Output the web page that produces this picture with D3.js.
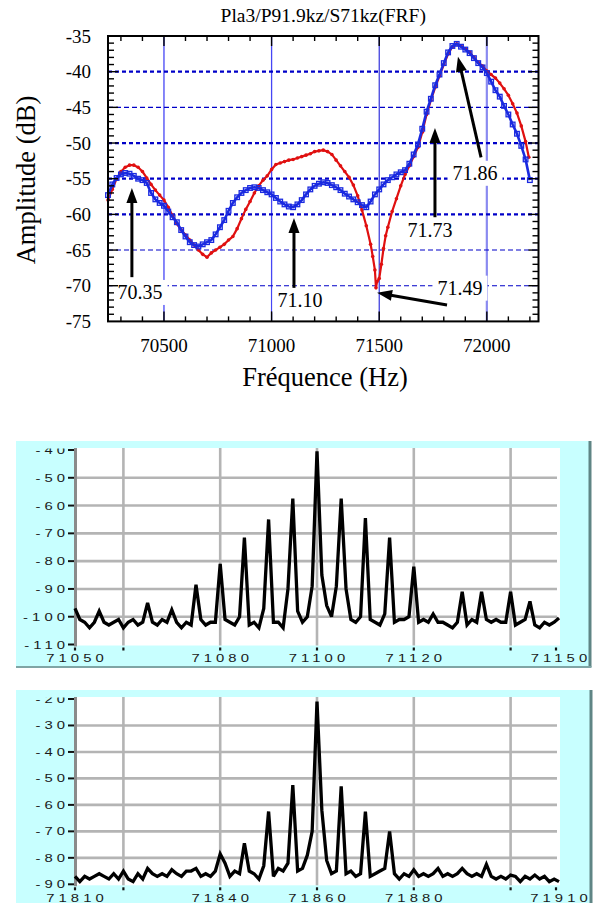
<!DOCTYPE html>
<html><head><meta charset="utf-8">
<script src="https://cdn.jsdelivr.net/npm/d3@7"></script>
<style>body{margin:0;background:#fff}svg{display:block}</style>
</head><body>
<svg id="c" width="596" height="903"></svg>
<script>
// ---------------- TOP CHART DATA (FRF) ----------------
const chartTitle = "Pla3/P91.9kz/S71kz(FRF)";
const blueHz = [70240,70260,70280,70300,70320,70340,70360,70380,70400,70420,70440,70460,70480,70500,70520,70540,70560,70580,70600,70620,70640,70660,70680,70700,70720,70740,70760,70780,70800,70820,70840,70860,70880,70900,70920,70940,70960,70980,71000,71020,71040,71060,71080,71100,71120,71140,71160,71180,71200,71220,71240,71260,71280,71300,71320,71340,71360,71380,71400,71420,71440,71460,71480,71500,71520,71540,71560,71580,71600,71620,71640,71660,71680,71700,71720,71740,71760,71780,71800,71820,71840,71860,71880,71900,71920,71940,71960,71980,72000,72020,72040,72060,72080,72100,72120,72140,72160,72180,72200];
const blueDb = [-57.3,-55.8,-54.9,-54.4,-54.2,-54.3,-54.6,-55.0,-55.2,-55.6,-57.0,-57.9,-58.4,-58.8,-59.6,-60.4,-61.1,-62.2,-63.1,-63.9,-64.3,-64.5,-64.2,-63.9,-63.6,-62.8,-61.8,-60.8,-59.5,-58.4,-57.6,-57.0,-56.6,-56.3,-56.2,-56.3,-56.6,-56.9,-57.2,-57.7,-58.2,-58.6,-58.9,-59.0,-58.6,-58.0,-57.2,-56.5,-56.0,-55.7,-55.5,-55.6,-55.9,-56.2,-56.6,-57.1,-57.5,-57.9,-58.3,-58.7,-59.0,-58.2,-57.2,-56.5,-55.8,-55.2,-54.8,-54.4,-54.1,-53.8,-52.9,-51.6,-50.2,-48.0,-45.6,-43.8,-41.9,-40.4,-38.8,-37.3,-36.4,-36.1,-36.5,-36.9,-37.4,-38.1,-38.8,-39.4,-40.2,-41.4,-42.6,-43.5,-44.8,-46.0,-47.4,-48.7,-50.4,-52.3,-55.2];
const redHz = [70240,70260,70280,70300,70320,70340,70360,70380,70400,70420,70440,70460,70480,70500,70520,70540,70560,70580,70600,70620,70640,70660,70680,70700,70720,70740,70760,70780,70800,70820,70840,70860,70880,70900,70920,70940,70960,70980,71000,71020,71040,71060,71080,71100,71120,71140,71160,71180,71200,71220,71240,71260,71280,71300,71320,71340,71360,71380,71400,71420,71440,71460,71470,71480,71485,71490,71500,71510,71520,71530,71540,71560,71580,71600,71620,71640,71660,71680,71700,71720,71740,71760,71780,71800,71820,71840,71860,71880,71900,71920,71940,71960,71980,72000,72020,72040,72060,72080,72100,72120,72140,72160,72180,72195];
const redDb = [-58.0,-56.5,-55.0,-54.0,-53.4,-53.1,-53.1,-53.4,-54.0,-54.9,-55.8,-56.6,-57.3,-58.0,-59.0,-60.2,-61.3,-62.2,-62.9,-63.6,-64.3,-65.0,-65.6,-66.0,-65.4,-65.0,-64.6,-64.2,-63.6,-63.1,-62.0,-60.6,-59.3,-58.2,-57.0,-56.0,-55.2,-54.6,-53.7,-53.0,-52.8,-52.6,-52.4,-52.3,-52.1,-51.9,-51.7,-51.5,-51.2,-51.1,-51.0,-51.2,-51.6,-52.4,-53.2,-54.0,-54.8,-55.9,-57.4,-59.4,-61.6,-64.2,-65.9,-67.8,-70.3,-69.4,-69.0,-67.0,-64.8,-63.0,-61.8,-59.6,-57.8,-56.0,-54.4,-53.2,-51.9,-50.6,-48.5,-46.0,-44.0,-42.2,-40.6,-39.0,-37.5,-36.5,-36.1,-36.4,-36.8,-37.3,-38.0,-38.7,-39.2,-39.9,-40.4,-40.9,-41.6,-42.4,-43.3,-44.5,-45.8,-47.6,-49.8,-52.0];
const topXTicks = [70500, 71000, 71500, 72000];
const topYTicks = [-75,-70,-65,-60,-55,-50,-45,-40,-35];
const thickLevels = [-40,-50,-55,-60];
const thinLevels = [-45,-65,-70];
const annotations = [
  {label:"70.35", tip:[70351,-56.3], tail:[70351,-68.8], text:[70389,-70.9]},
  {label:"71.10", tip:[71104,-60.5], tail:[71104,-70.3], text:[71132,-72.0]},
  {label:"71.49", tip:[71490,-71.0], tail:[71815,-72.7], text:[71875,-70.3]},
  {label:"71.73", tip:[71759,-47.9], tail:[71759,-60.4], text:[71736,-62.2]},
  {label:"71.86", tip:[71866,-37.9], tail:[71973,-52.0], text:[71945,-54.2]}
];

// ---------------- MIDDLE SPECTRUM (71050-71150 Hz) ----------------
const midStartHz = 71050;
const midDb = [-97,-101,-102,-104,-102,-98,-102,-103,-102,-101,-104,-102,-101,-103,-102,-95,-102,-103,-101,-102,-97.5,-102,-104,-102,-103,-88.5,-101,-103,-102,-102,-81,-101,-102,-103,-100,-71.5,-103,-102,-104,-97,-65,-102,-102,-104,-90,-57.5,-98,-102,-100,-89,-40.5,-85,-96,-100,-89,-57.5,-90,-101,-102,-100,-64.5,-101,-102,-103,-99,-71.5,-102,-101,-101,-100,-82,-102,-101,-102,-99,-102,-102,-103,-104,-102,-91,-103,-101,-102,-91,-101,-102,-101,-102,-102,-91,-103,-102,-101,-94.5,-103,-104,-102,-103,-102,-100.5];
const midXLabels = [71050, 71080, 71100, 71120, 71150];
const midXGrid = [71060, 71080, 71100, 71120, 71140];
const midYTicks = [-110,-100,-90,-80,-70,-60,-50,-40];

// ---------------- BOTTOM SPECTRUM (71810-71910 Hz) ----------------
const botStartHz = 71810;
const botDb = [-87,-89,-87,-88,-87,-86,-87,-88,-86,-88,-85,-88,-89,-86,-88,-84,-86,-87,-86,-87,-84.5,-86,-87,-85,-85,-84,-87,-86,-87,-85,-78.5,-82,-87,-85,-86,-74.5,-85,-86,-88,-83,-62.5,-87,-84,-85,-82,-52.5,-85,-84,-79,-70,-21,-62,-81,-86,-85,-53,-86,-85,-87,-86,-62.5,-87,-86,-85,-84,-70,-86,-88,-86,-87,-84.5,-87,-86,-87,-86,-84,-87,-86,-87,-86,-84,-86,-87,-86,-87,-82.5,-87,-88,-87,-88,-86.5,-87,-89,-87,-88,-86.5,-88,-87,-89,-88,-89];
const botXLabels = [71810, 71840, 71860, 71880, 71910];
const botXGrid = [71820, 71840, 71860, 71880, 71900];
const botYTicks = [-90,-80,-70,-60,-50,-40,-30,-20];

const svg = d3.select("#c");

// ================= TOP CHART =================
(function(){
  const L=108, R=538.5, T=36, B=321.4;
  const x = d3.scaleLinear([70240,72240],[L,R]);
  const y = d3.scaleLinear([-75,-35],[B,T]);
  const g = svg.append("g");
  const serif = "'Liberation Serif','Times New Roman',serif";

  g.append("text").attr("x",(L+R)/2).attr("y",22).attr("text-anchor","middle")
    .attr("font-family",serif).attr("font-size",19.5).text(chartTitle);

  const vStyle = {70500:["#4646f5",1.3],71000:["#4646f5",1.3],71500:["#2020d8",1.1],72000:["#8a8af0",2.2]};
  g.append("g").selectAll("line").data(topXTicks).join("line")
    .attr("x1",d=>x(d)).attr("x2",d=>x(d)).attr("y1",T).attr("y2",B)
    .attr("stroke",d=>vStyle[d][0]).attr("stroke-width",d=>vStyle[d][1]);

  g.append("g").selectAll("line").data(thickLevels).join("line")
    .attr("x1",L).attr("x2",R).attr("y1",d=>y(d)).attr("y2",d=>y(d))
    .attr("stroke","#0000c8").attr("stroke-width",2.3).attr("stroke-dasharray","4,3");
  g.append("g").selectAll("line").data(thinLevels).join("line")
    .attr("x1",L).attr("x2",R).attr("y1",d=>y(d)).attr("y2",d=>y(d))
    .attr("stroke","#0000c8").attr("stroke-width",1.1).attr("stroke-dasharray","5,3");

  const boxG = g.append("g");
  const curveG = g.append("g");
  const arrowG = g.append("g");
  const labG = g.append("g");
  annotations.forEach(a=>{
    const t = labG.append("text").attr("x",x(a.text[0])).attr("y",y(a.text[1])+6.8)
      .attr("text-anchor","middle").attr("font-family",serif).attr("font-size",20).text(a.label);
    const bb = t.node().getBBox();
    boxG.append("rect").attr("x",bb.x-5).attr("y",bb.y-1).attr("width",bb.width+10).attr("height",bb.height+3).attr("fill","#fff");
  });

  const redPts = redHz.map((h,i)=>[h,redDb[i]]);
  const bluePts = blueHz.map((h,i)=>[h,blueDb[i]]);
  const line = d3.line().x(d=>x(d[0])).y(d=>y(d[1]));
  curveG.append("path").attr("d",line(redPts)).attr("fill","none").attr("stroke","#e01010").attr("stroke-width",2.2);
  curveG.append("g").selectAll("circle").data(redPts).join("circle")
    .attr("cx",d=>x(d[0])).attr("cy",d=>y(d[1])).attr("r",1.8).attr("fill","#e01010");
  curveG.append("path").attr("d",line(bluePts)).attr("fill","none").attr("stroke","#1a2ae0").attr("stroke-width",2.6);
  curveG.append("g").selectAll("rect").data(bluePts).join("rect")
    .attr("x",d=>x(d[0])-2.3).attr("y",d=>y(d[1])-2.3).attr("width",4.6).attr("height",4.6)
    .attr("fill","none").attr("stroke","#1a2ae0").attr("stroke-width",1.3);

  annotations.forEach(a=>{
    const x1=x(a.tail[0]), y1=y(a.tail[1]), x2=x(a.tip[0]), y2=y(a.tip[1]);
    const dx=x2-x1, dy=y2-y1, len=Math.hypot(dx,dy), ux=dx/len, uy=dy/len;
    const hl=15, hw=5.5;
    const bx=x2-ux*hl, by=y2-uy*hl;
    arrowG.append("line").attr("x1",x1).attr("y1",y1).attr("x2",bx+ux*1).attr("y2",by+uy*1)
      .attr("stroke","#000").attr("stroke-width",3);
    arrowG.append("path").attr("d",`M${x2},${y2}L${bx-uy*hw},${by+ux*hw}L${bx+uy*hw},${by-ux*hw}Z`).attr("fill","#000");
  });

  const fr = g.append("g").attr("stroke","#000");
  fr.append("rect").attr("x",L).attr("y",T).attr("width",R-L).attr("height",B-T)
    .attr("fill","none").attr("stroke-width",2);
  const xMinor = d3.range(70300,72241,100);
  xMinor.forEach(v=>{
    const len = v%500===0?10:5;
    fr.append("line").attr("x1",x(v)).attr("x2",x(v)).attr("y1",T).attr("y2",T+len).attr("stroke-width",1.4);
    fr.append("line").attr("x1",x(v)).attr("x2",x(v)).attr("y1",B).attr("y2",B-len).attr("stroke-width",1.4);
  });
  const yMinor = d3.range(-74,-35,1);
  yMinor.forEach(v=>{
    const len = v%5===0?10:6;
    fr.append("line").attr("x1",L).attr("x2",L+len).attr("y1",y(v)).attr("y2",y(v)).attr("stroke-width",1.4);
    fr.append("line").attr("x1",R).attr("x2",R-len).attr("y1",y(v)).attr("y2",y(v)).attr("stroke-width",1.4);
  });

  g.append("g").selectAll("text").data(topYTicks).join("text")
    .attr("x",91).attr("y",d=>y(d)+6.5).attr("text-anchor","end")
    .attr("font-family",serif).attr("font-size",19).text(d=>d);
  g.append("g").selectAll("text").data(topXTicks).join("text")
    .attr("x",d=>x(d)).attr("y",352).attr("text-anchor","middle")
    .attr("font-family",serif).attr("font-size",19).text(d=>d);
  g.append("text").attr("transform","translate(35,180) rotate(-90)").attr("text-anchor","middle")
    .attr("font-family",serif).attr("font-size",26.5).text("Amplitude (dB)");
  g.append("text").attr("x",325).attr("y",386).attr("text-anchor","middle")
    .attr("font-family",serif).attr("font-size",26.5).text("Fréquence (Hz)");
})();

// ================= SPECTRUM PANELS =================
function spectrum(opt){
  const {panel, plot, xDom, yDom, db, startHz, xLabels, xGrid, yTicks, id} = opt;
  const g = svg.append("g");
  const x = d3.scaleLinear(xDom,[75,559]);
  const y = d3.scaleLinear(yDom,[plot.bottom, plot.top]);
  g.append("rect").attr("x",panel.x0).attr("y",panel.y0).attr("width",panel.x1-panel.x0).attr("height",panel.y1-panel.y0).attr("fill","#c8ffff");
  g.append("line").attr("x1",panel.x1).attr("x2",panel.x1).attr("y1",panel.y0).attr("y2",panel.y1)
    .attr("stroke","#5f8585").attr("stroke-width",3);
  if (panel.bottomBorder) g.append("line").attr("x1",panel.x0).attr("x2",panel.x1+1.5).attr("y1",panel.y1).attr("y2",panel.y1)
    .attr("stroke","#7fa5a5").attr("stroke-width",2);
  g.append("rect").attr("x",76).attr("y",plot.top-2).attr("width",560-76).attr("height",plot.bottom-plot.top+3).attr("fill","#fff");
  const inner = yTicks.slice(1,-1);
  g.append("g").selectAll("line").data(inner).join("line")
    .attr("x1",76).attr("x2",557).attr("y1",d=>y(d)).attr("y2",d=>y(d))
    .attr("stroke","#b4b4b4").attr("stroke-width",2.6);
  g.append("g").selectAll("line").data(xGrid).join("line")
    .attr("x1",d=>x(d)).attr("x2",d=>x(d)).attr("y1",plot.top-2).attr("y2",plot.bottom+1)
    .attr("stroke","#b4b4b4").attr("stroke-width",2.6);
  g.append("line").attr("x1",75.5).attr("x2",75.5).attr("y1",plot.top-2).attr("y2",plot.bottom+2)
    .attr("stroke","#8a8a8a").attr("stroke-width",3);
  g.append("g").selectAll("line").data(yTicks).join("line")
    .attr("x1",68).attr("x2",74).attr("y1",d=>y(d)).attr("y2",d=>y(d))
    .attr("stroke","#111").attr("stroke-width",2);
  const bt = [xDom[0]].concat(xGrid, [xDom[1]]);
  g.append("g").selectAll("line").data(bt).join("line")
    .attr("x1",d=>Math.min(x(d),556)).attr("x2",d=>Math.min(x(d),556)).attr("y1",plot.bottom+3).attr("y2",plot.bottom+6)
    .attr("stroke","#111").attr("stroke-width",2.2);
  const pts = db.map((v,i)=>[startHz+i, v]);
  g.append("path").attr("d",d3.line().x(d=>x(d[0])).y(d=>y(d[1]))(pts))
    .attr("fill","none").attr("stroke","#000").attr("stroke-width",3.3).attr("stroke-linejoin","miter").attr("stroke-miterlimit",3);
  const clip = svg.append("clipPath").attr("id",id);
  clip.append("rect").attr("x",panel.x0).attr("y",plot.top-1.5).attr("width",panel.x1-panel.x0).attr("height",panel.labelBottom-plot.top+1.5);
  const lg = g.append("g").attr("clip-path",`url(#${id})`)
    .attr("font-family","'Liberation Sans',Arial,sans-serif").attr("font-size",11).attr("fill","#1a1a1a").attr("letter-spacing",3);
  const sx = 1.35;
  yTicks.forEach(v=>{
    lg.append("text").attr("transform",`translate(${69},${y(v)+4}) scale(${sx},1)`)
      .attr("text-anchor","end").text(v);
  });
  xLabels.forEach(v=>{
    lg.append("text").attr("transform",`translate(${x(v)+2},${plot.bottom+17.5}) scale(${sx},1)`)
      .attr("text-anchor","middle").text(v);
  });
}

spectrum({id:"clipMid", panel:{x0:16,x1:590,y0:441,y1:667,bottomBorder:true,labelBottom:664},
  plot:{top:450,bottom:644.5}, xDom:[71050,71150], yDom:[-110,-40], db:midDb, startHz:midStartHz,
  xLabels:midXLabels, xGrid:midXGrid, yTicks:midYTicks});
spectrum({id:"clipBot", panel:{x0:16,x1:591,y0:690,y1:903,bottomBorder:false,labelBottom:903},
  plot:{top:699,bottom:884.3}, xDom:[71810,71910], yDom:[-90,-20], db:botDb, startHz:botStartHz,
  xLabels:botXLabels, xGrid:botXGrid, yTicks:botYTicks});
</script>
</body></html>
